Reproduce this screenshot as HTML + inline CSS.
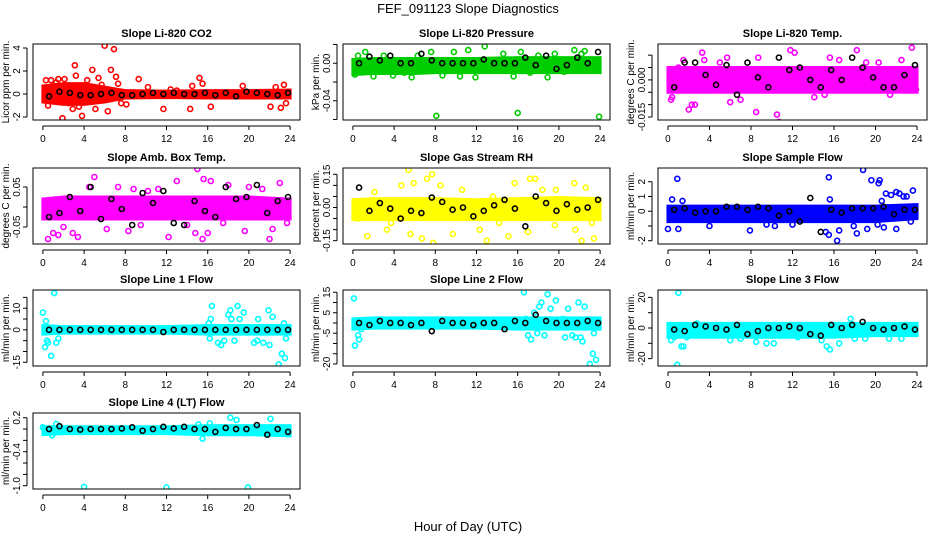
<!DOCTYPE html>
<html><head><meta charset="utf-8">
<style>
html,body{margin:0;padding:0;background:#fff;}
svg{display:block;font-family:"Liberation Sans",sans-serif;}
</style></head>
<body>
<svg id="chart" width="936" height="540" viewBox="0 0 936 540">
<text x="468" y="13" text-anchor="middle" font-size="13">FEF_091123  Slope Diagnostics</text>
<text x="468" y="531" text-anchor="middle" font-size="13">Hour of Day (UTC)</text>
</svg>
<script>
// ---- data ----
const xTicks = [0,4,8,12,16,20,24];
const bandHours = [0,2,4,6,8,12,16,20,24];

const co2BandLo = [-0.7,-0.9,-0.9,-0.7,-0.35,-0.3,-0.35,-0.35,-0.35];
const co2BandHi = [0.7,0.9,0.9,0.6,0.3,0.25,0.3,0.3,0.35];
const co2Pts = [[0.3,1.2],[0.5,-1],[0.8,1.2],[1,0.3],[1.3,1],[1.5,1.3],[1.9,-2.1],[2.1,1.3],[2.4,-0.6],[2.9,-1.3],[3.1,2.5],[3.2,1.6],[3.5,-1.1],[3.8,-1.9],[4.3,1.2],[4.8,2.1],[5.1,-1.3],[5.4,1.4],[5.7,0.8],[6,4.2],[6.3,-1.5],[6.6,2.1],[6.9,3.9],[7.1,1.5],[7.3,0.9],[7.6,-0.8],[8.1,-0.9],[9.3,1.3],[10.2,0.6],[11.7,-1.3],[12.4,0.4],[13,0.3],[14.3,-1.3],[14.5,0.7],[15.2,1.4],[15.5,0.9],[16.3,-1.1],[19.4,0.7],[22.1,-1.1],[22.6,0.6],[23.1,-1.2],[23.4,0.8],[23.6,-0.8],[5.3,-0.3],[3.5,0.5],[2.5,-0.8],[4.5,-0.5],[1.7,-0.6],[0.9,-0.5]];
const co2Black = [-0.2,0.2,0.1,-0.1,-0.1,0.0,0.1,-0.1,-0.1,0.0,0.1,0.0,0.1,0.0,0.0,0.1,-0.1,0.1,-0.2,0.2,0.1,0.0,-0.1,0.1];

const presBandLo = [-0.012,-0.011,-0.011,-0.011,-0.01,-0.01,-0.01,-0.01,-0.01];
const presBandHi = [0.004,0.005,0.005,0.005,0.005,0.005,0.006,0.006,0.006];
const presPts = [[0.2,-0.012],[0.5,0.008],[1.2,0.012],[2,-0.014],[3,0.008],[3.9,-0.013],[5,-0.01],[5.7,-0.015],[6.3,0.008],[7.6,0.012],[8.1,-0.056],[8.7,-0.013],[9.8,0.012],[10.4,-0.014],[11.2,0.014],[11.9,-0.015],[12.8,0.018],[13.5,-0.008],[14.6,0.01],[15.6,-0.014],[16,-0.053],[16.3,0.012],[17.2,-0.01],[18,0.008],[18.9,-0.015],[19.6,0.01],[20.5,-0.009],[21.5,0.014],[22.2,0.01],[23,-0.006],[23.9,-0.057],[22.5,0.013]];
const presBlack = [0.0,0.007,0.003,0.008,0.0,0.0,0.01,0.003,0.0,0.0,0.0,0.0,0.004,0.0,0.0,0.0,0.006,-0.002,0.008,-0.006,-0.002,0.006,0.0,0.012];

const tempBandLo = [-0.005,-0.005,-0.005,-0.005,-0.005,-0.005,-0.005,-0.005,-0.005];
const tempBandHi = [0.005,0.005,0.005,0.005,0.005,0.005,0.005,0.005,0.005];
const tempPts = [[0.3,-0.008],[1,0.005],[1.5,0.008],[2,-0.012],[2.3,-0.01],[3.3,0.011],[3.5,0.008],[4.3,-0.018],[5,0.007],[5.7,0.009],[6,-0.009],[7,-0.008],[8.5,-0.013],[8.7,0.009],[10.5,-0.014],[10.7,-0.017],[11.8,0.012],[12.2,0.011],[13,0.004],[14.1,-0.007],[15.1,-0.006],[15.6,0.009],[16.5,0.008],[18.2,0.012],[19.1,0.007],[20.3,0.007],[21.4,-0.006],[22.5,0.008],[23.5,0.013],[23.9,-0.004],[0.4,-0.007],[2.6,-0.01]];
const tempBlack = [-0.003,0.007,0.007,0.002,-0.002,0.006,-0.006,0.007,0.001,-0.003,0.009,0.004,0.005,0.0,-0.003,0.004,0.0,0.009,0.005,0.001,-0.003,-0.003,0.002,0.006];

const ambBandLo = [-0.03,-0.03,-0.03,-0.03,-0.03,-0.03,-0.03,-0.03,-0.03];
const ambBandHi = [0.02,0.025,0.025,0.025,0.025,0.025,0.025,0.025,0.02];
const ambPts = [[0.5,-0.08],[1,-0.065],[1.5,-0.07],[2,-0.05],[2.9,-0.065],[3.4,-0.075],[5,0.075],[6.2,-0.055],[7.3,0.05],[8.3,-0.06],[9.5,-0.045],[10.2,0.04],[11.2,0.045],[12.2,-0.075],[13,0.065],[14,-0.045],[14.8,-0.065],[15.5,-0.08],[15,0.095],[15.6,0.07],[16,-0.065],[16.3,0.065],[17.5,-0.04],[18,0.055],[19.6,-0.06],[20,0.05],[21.3,0.045],[22,-0.08],[22.3,-0.055],[23,0.06],[23.7,-0.04],[4.5,0.05],[8.8,0.045]];
const ambBlack = [-0.025,-0.015,0.025,-0.01,0.05,-0.03,0.02,-0.005,-0.045,0.035,0.01,0.04,-0.04,-0.045,0.015,-0.01,-0.025,0.05,0.02,0.025,0.055,-0.015,0.015,0.025];

const rhBandLo = [-0.055,-0.055,-0.055,-0.055,-0.055,-0.055,-0.055,-0.055,-0.055];
const rhBandHi = [0.035,0.04,0.04,0.04,0.04,0.035,0.04,0.045,0.04];
const rhPts = [[0.5,-0.05],[1.4,-0.13],[2.1,0.07],[3.3,-0.1],[3.7,-0.07],[4.7,0.1],[5.4,0.17],[5.6,-0.12],[5.9,0.11],[6.7,-0.14],[7.2,0.13],[7.7,0.15],[7.8,-0.16],[8.5,0.1],[9.7,-0.12],[10.6,0.08],[12.3,-0.1],[13,-0.15],[13.6,0.05],[14.2,-0.07],[15.1,-0.13],[15.7,0.11],[17,-0.11],[17.2,0.13],[17.7,0.13],[18.4,0.08],[19.6,-0.08],[19.7,0.08],[21.5,0.11],[21.6,-0.1],[22.2,-0.15],[22.6,0.09],[23.2,-0.07],[23.4,-0.14]];
const rhBlack = [0.09,-0.015,0.02,-0.005,-0.05,-0.015,-0.025,0.045,0.025,-0.01,0.0,-0.04,-0.015,0.01,0.035,-0.005,-0.085,0.05,0.02,-0.015,0.015,-0.01,0.0,0.035];

const sampBandLo = [-0.7,-0.7,-0.7,-0.7,-0.7,-0.7,-0.7,-0.7,-0.5];
const sampBandHi = [0.35,0.35,0.35,0.35,0.35,0.35,0.35,0.35,0.45];
const sampPts = [[0,-1.2],[0.4,0.8],[0.9,2.2],[1,-1.2],[1.4,0.7],[4,-1],[7.9,-1.3],[9.5,-0.9],[10.3,-1],[12,-0.9],[15.2,-1.4],[15.5,2.3],[15.6,0.8],[15.5,-1.6],[16.3,-2],[16.5,-1.3],[17.9,-1],[18.2,-1.5],[18.8,2.8],[19.2,-1.2],[19.6,2.1],[20.3,1.9],[20.4,2.1],[20.6,0.7],[21,1.2],[21.5,1.1],[22,1.3],[22.3,1.2],[22.7,1],[23,1],[23.6,1.4],[22,-1.2],[20.8,-1.1],[23.4,-0.7],[20.2,-0.9]];
const sampBlack = [0.1,0.2,-0.1,0.0,0.0,0.3,0.3,0.1,0.3,0.2,-0.3,0.0,-0.7,0.9,-1.4,0.1,-0.1,0.2,0.2,0.2,0.3,-0.2,0.1,0.1];

const l1BandLo = [-2,-1.5,-1.5,-1.5,-1.5,-1.5,-2,-2,-2];
const l1BandHi = [2,1.5,1.5,1.5,1.5,1.5,2,2,2];
const l1Pts = [[0,8],[0.2,-8],[0.4,-5],[0.5,-6],[0.3,4],[0.8,-12],[1.1,17],[1.3,-6],[1.5,-4],[16.1,3],[16.2,-4],[16.3,5],[16.4,11],[17,-6],[17.3,-7],[17.6,-5],[18,7],[18.2,9],[18.3,5],[18.6,-5],[18.9,11],[19.1,5],[19.5,8],[20.5,-6],[20.8,-5],[20.9,5],[21.4,-6],[21.9,9],[22,-7],[22.3,6],[22.9,-16],[23.2,-11],[23.5,-13],[23.6,-4],[23.4,3]];
const l1Black = [0,0,0,0,0,0,0,0,0,0,0,-1,0,0,0,0,0,0,0,0,0,0,0,0];

const l2BandLo = [-3,-2.5,-2.5,-2.5,-2.5,-2.5,-3,-3,-3];
const l2BandHi = [2,2.5,2.5,2.5,2.5,2.5,2.5,2.5,2.5];
const l2Pts = [[0.1,12],[0.2,-11],[0.5,-6],[0.6,-8],[0.8,-3],[16.6,15],[16.8,2],[17,-6],[17.3,-8],[17.6,5],[17.9,-5],[18.1,8],[18.3,10],[18.6,-6],[18.9,14],[19.2,7],[19.7,11],[20.4,2],[20.6,-7],[20.9,7],[21.3,-6],[21.6,-7],[21.9,10],[22.1,-7],[22.3,-9],[22.5,8],[23,-20],[23.3,-15],[23.6,-18],[23.4,-5]];
const l2Black = [0,-1,1,0,0,-1,0,-4,1,0,0,-1,0,0,-3,1,0,4,1,0,0,0,1,0];

const l3BandLo = [-6,-6,-6,-6,-6,-6,-6,-5,-5];
const l3BandHi = [3,3,3,3,3,3,3,3,3];
const l3Pts = [[0.3,-8],[0.6,-6],[0.9,-24],[1,23],[1.3,-12],[1.5,-12],[1.8,-6],[2.8,3],[6,-8],[7,-7],[8.5,-9],[9.5,-10],[10.2,-10],[12.5,-6],[14.8,-8],[15.3,-12],[15.6,-14],[16.5,-10],[17.6,6],[18,-7],[19,-7],[21.3,-7],[22.5,-7]];
const l3Black = [-1,-2,2,1,0,-1,2,-4,-2,0,0,1,0,-4,-5,2,0,2,4,0,-1,0,1,-1];

const l4BandLo = [-0.1,-0.08,-0.08,-0.08,-0.08,-0.08,-0.1,-0.1,-0.12];
const l4BandHi = [0.04,0.04,0.04,0.04,0.04,0.04,0.06,0.06,0.06];
const l4Pts = [[0,0.03],[0.2,-0.06],[0.9,-0.11],[1.3,0.09],[4,-1.02],[12,-1.03],[15.1,0.08],[15.5,-0.17],[16.2,0.1],[18.2,0.2],[18.8,0.16],[19.9,-1.03],[22.1,0.18],[23.1,-0.08],[23.5,-0.08]];
const l4Black = [0.0,0.05,0.0,-0.01,0.0,0.0,0.0,0.01,0.03,-0.03,0.0,0.04,0.01,0.04,0.0,0.0,-0.05,0.02,0.0,0.0,0.07,-0.1,0.0,-0.05];

// ---- layout (not data) ----
const cols = [[33,300],[343,610],[658,927]];
const rows = [[44,120],[168,244],[290,366],[413,489]];
const panels = [
 {t:"Slope Li-820 CO2",yl:"Licor ppm per min.",c:0,r:0,col:"#ff0000",d:[-2.26,4.35],tk:[-2,0,2,4],lb:["-2","0","2","4"],lo:co2BandLo,hi:co2BandHi,pts:co2Pts,blk:co2Black,n:"co2"},
 {t:"Slope Li-820 Pressure",yl:"kPa per min.",c:1,r:0,col:"#00cd00",d:[-0.0605,0.0205],tk:[0.02,0,-0.02,-0.04,-0.06],lb:["","0.00","","-0.04",""],lo:presBandLo,hi:presBandHi,pts:presPts,blk:presBlack,n:"pressure"},
 {t:"Slope Li-820 Temp.",yl:"degrees C per min.",c:2,r:0,col:"#ff00ff",d:[-0.0162,0.0145],tk:[0.01,0.005,0,-0.005,-0.01,-0.015],lb:["","","0.000","","","-0.015"],lo:tempBandLo,hi:tempBandHi,pts:tempPts,blk:tempBlack,n:"li820-temp"},
 {t:"Slope Amb. Box Temp.",yl:"degrees C per min.",c:0,r:1,col:"#ff00ff",d:[-0.0925,0.0975],tk:[0.05,0,-0.05],lb:["0.05","","-0.05"],lo:ambBandLo,hi:ambBandHi,pts:ambPts,blk:ambBlack,n:"amb-temp"},
 {t:"Slope Gas Stream RH",yl:"percent per min.",c:1,r:1,col:"#ffff00",d:[-0.165,0.1786],tk:[0.15,0.1,0.05,0,-0.05,-0.1,-0.15],lb:["0.15","","","0.00","","","-0.15"],lo:rhBandLo,hi:rhBandHi,pts:rhPts,blk:rhBlack,n:"rh"},
 {t:"Slope Sample Flow",yl:"ml/min per min.",c:2,r:1,col:"#0000ff",d:[-2.22,2.93],tk:[2,1,0,-1,-2],lb:["2","1","0","","-2"],lo:sampBandLo,hi:sampBandHi,pts:sampPts,blk:sampBlack,n:"sample-flow"},
 {t:"Slope Line 1 Flow",yl:"ml/min per min.",c:0,r:2,col:"#00ffff",d:[-16.7,18.4],tk:[15,10,5,0,-5,-10,-15],lb:["","10","","0","","","-15"],lo:l1BandLo,hi:l1BandHi,pts:l1Pts,blk:l1Black,n:"line1-flow"},
 {t:"Slope Line 2 Flow",yl:"ml/min per min.",c:1,r:2,col:"#00ffff",d:[-21,16.1],tk:[15,10,5,0,-5,-10,-15,-20],lb:["15","","5","","-5","","","-20"],lo:l2BandLo,hi:l2BandHi,pts:l2Pts,blk:l2Black,n:"line2-flow"},
 {t:"Slope Line 3 Flow",yl:"ml/min per min.",c:2,r:2,col:"#00ffff",d:[-24.8,24.8],tk:[20,10,0,-10,-20],lb:["20","","0","","-20"],lo:l3BandLo,hi:l3BandHi,pts:l3Pts,blk:l3Black,n:"line3-flow"},
 {t:"Slope Line 4 (LT) Flow",yl:"ml/min per min.",c:0,r:3,col:"#00ffff",d:[-1.058,0.283],tk:[0.2,0,-0.2,-0.4,-0.6,-0.8,-1.0],lb:["0.2","","","-0.4","","","-1.0"],lo:l4BandLo,hi:l4BandHi,pts:l4Pts,blk:l4Black,n:"line4-flow"}
];
const NS="http://www.w3.org/2000/svg";
const svg=document.getElementById('chart');
function mk(tag,attrs,parent){const e=document.createElementNS(NS,tag);for(const k in attrs)e.setAttribute(k,attrs[k]);(parent||svg).appendChild(e);return e;}

panels.forEach(p=>{
  const [L,R]=cols[p.c],[T,B]=rows[p.r];
  const xs=h=>L+(h+0.96)/25.92*(R-L);
  const ys=v=>B-(v-p.d[0])/(p.d[1]-p.d[0])*(B-T);
  const g=mk('g',{});
  
  
  const clip=mk('clipPath',{id:'clip-'+p.n},g);
  mk('rect',{x:L,y:T,width:R-L,height:B-T},clip);
  const pg=mk('g',{'clip-path':'url(#clip-'+p.n+')'},g);
  let pts=bandHours.map((h,i)=>xs(h)+','+ys(p.hi[i]));
  pts=pts.concat(bandHours.slice().reverse().map((h,i)=>xs(h)+','+ys(p.lo[bandHours.length-1-i])));
  const band=mk('polygon',{points:pts.join(' '),fill:p.col,stroke:p.col,'stroke-width':3},pg);
  
  
  p.pts.forEach(pt=>{
    const c=mk('circle',{cx:xs(pt[0]),cy:ys(pt[1]),r:2.5,fill:'none',stroke:p.col,'stroke-width':1.6},pg);
    
    
  });
  p.blk.forEach((v,i)=>{
    const h=0.6+i*(23.2/(p.blk.length-1));
    const c=mk('circle',{cx:xs(h),cy:ys(v),r:2.5,fill:'none',stroke:'#000','stroke-width':1.6},pg);
    
    
  });
  const box=mk('rect',{x:L,y:T,width:R-L,height:B-T,fill:'none',stroke:'#000','stroke-width':1},g);
  
  
  const tt=mk('text',{x:(L+R)/2,y:T-7,'text-anchor':'middle','font-size':11,'font-weight':'bold'},g);
  tt.textContent=p.t;
  
  
  mk('line',{x1:xs(0),x2:xs(24),y1:B+6,y2:B+6,stroke:'#000'},g);
  xTicks.forEach(h=>{
    mk('line',{x1:xs(h),x2:xs(h),y1:B+6,y2:B+10,stroke:'#000'},g);
    const lt=mk('text',{x:xs(h),y:B+22,'text-anchor':'middle','font-size':10},g);
    lt.textContent=h;
    
    
  });
  const yt=p.tk;
  mk('line',{x1:L-6,x2:L-6,y1:ys(Math.max(...yt)),y2:ys(Math.min(...yt)),stroke:'#000'},g);
  yt.forEach((v,i)=>{
    mk('line',{x1:L-10,x2:L-6,y1:ys(v),y2:ys(v),stroke:'#000'},g);
    if(p.lb[i]){
      const lt=mk('text',{x:0,y:0,'text-anchor':'middle','font-size':10,transform:`translate(${L-13},${ys(v)}) rotate(-90)`},g);
      lt.textContent=p.lb[i];
      
      
    }
  });
  const yl=mk('text',{x:0,y:0,'text-anchor':'middle','font-size':10,transform:`translate(${L-24},${(T+B)/2}) rotate(-90)`},g);
  yl.textContent=p.yl;
  
  
});
</script>
</body></html>
